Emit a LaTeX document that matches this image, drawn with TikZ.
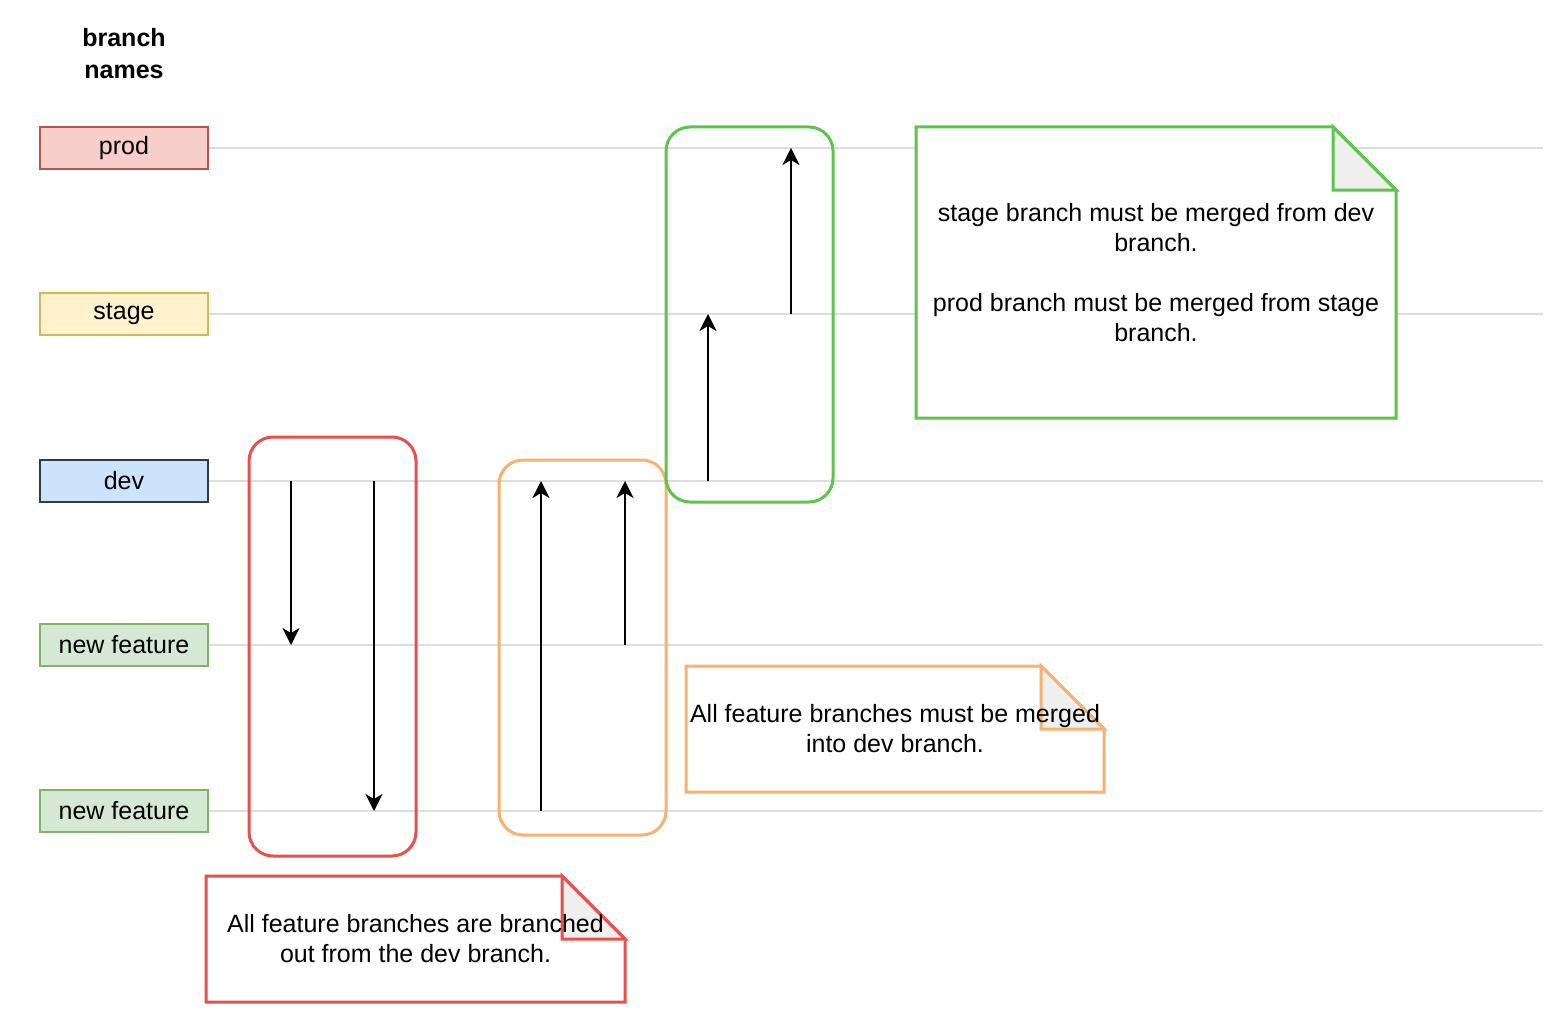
\documentclass[tikz,border=0pt]{standalone}
\usepackage{fontspec}
\setmainfont{Liberation Sans}
\usetikzlibrary{positioning,arrows.meta,calc}

\definecolor{prodfill}{HTML}{F8CECC}
\definecolor{prodline}{HTML}{B85450}
\definecolor{stagefill}{HTML}{FFF2CC}
\definecolor{stageline}{HTML}{D6B656}
\definecolor{devfill}{HTML}{CCE3FC}
\definecolor{devline}{HTML}{36393D}
\definecolor{featfill}{HTML}{D5E8D4}
\definecolor{featline}{HTML}{82B366}
\definecolor{lanegray}{HTML}{DDDDDD}
\definecolor{cutred}{HTML}{E8504E}
\definecolor{mrgorange}{HTML}{F6B26E}
\definecolor{relgreen}{HTML}{5BC64A}
\definecolor{foldgray}{HTML}{EFEFEF}

\begin{document}
\begin{tikzpicture}[x=0.5pt,y=-0.5pt,
        font=\fontsize{12.5pt}{15pt}\selectfont,
        branch/.style={draw, line width=1pt, minimum width=84pt, minimum height=21pt, inner sep=0pt},
        lane/.style={draw=lanegray, line width=1pt},
        frame/.style={line width=1.5pt, rounded corners=12pt},
        merge/.style={-{Stealth[length=8.5pt,width=8.5pt,inset=2.5pt]}, line width=0.9pt},
        note/.style={line width=1.5pt, fill=white},
        fold/.style={line width=1.5pt, fill=foldgray},
        notetext/.style={align=center, inner sep=0pt}]

    \useasboundingbox (0,0) rectangle (1564,1022);

    \node[font=\bfseries\fontsize{12.5pt}{16pt}\selectfont, align=center] (title) at (124,54) {branch\\names};

    \node[branch, draw=prodline,  fill=prodfill]  (prod)  at (124,148) {prod};
    \node[branch, draw=stageline, fill=stagefill] (stage) at (124,314) {stage};
    \node[branch, draw=devline,   fill=devfill]   (dev)   at (124,481) {dev};
    \node[branch, draw=featline,  fill=featfill]  (feat1) at (124,645) {new feature};
    \node[branch, draw=featline,  fill=featfill]  (feat2) at (124,811) {new feature};

    % lanes
    \coordinate (laneend) at (1543,0);
    \foreach \b in {prod,stage,dev,feat1,feat2}
        \draw[lane] (\b.east) -- (\b.east -| laneend);

    % frames
    \draw[frame, draw=cutred]    (249,437) rectangle (416,856);
    \draw[frame, draw=mrgorange] (499,460) rectangle (666,835);
    \draw[frame, draw=relgreen]  (666,127) rectangle (833,502);

    % columns of the arrows
    \coordinate (cut1) at (291,0);
    \coordinate (cut2) at (374,0);
    \coordinate (mrg1) at (541,0);
    \coordinate (mrg2) at (625,0);
    \coordinate (rel1) at (708,0);
    \coordinate (rel2) at (791,0);

    \draw[merge] (cut1 |- dev)   -- (cut1 |- feat1);
    \draw[merge] (cut2 |- dev)   -- (cut2 |- feat2);
    \draw[merge] (mrg1 |- feat2) -- (mrg1 |- dev);
    \draw[merge] (mrg2 |- feat1) -- (mrg2 |- dev);
    \draw[merge] (rel1 |- dev)   -- (rel1 |- stage);
    \draw[merge] (rel2 |- stage) -- (rel2 |- prod);

    % notes
    \coordinate (relnw) at (916,127);  \coordinate (relse) at (1396,418);
    \coordinate (mrgnw) at (686,666);  \coordinate (mrgse) at (1104,792);
    \coordinate (cutnw) at (206,876);  \coordinate (cutse) at (625,1002);

    \foreach \n/\c in {rel/relgreen, mrg/mrgorange, cut/cutred} {
        \draw[note, draw=\c] (\n nw) -- ([xshift=-31.5pt]\n nw -| \n se) -- ([yshift=-31.5pt]\n nw -| \n se)
            -- (\n se) -- (\n nw |- \n se) -- cycle;
        \draw[fold, draw=\c] ([xshift=-31.5pt]\n nw -| \n se) |- ([yshift=-31.5pt]\n nw -| \n se) -- cycle;
    }

    \node[notetext] (reltext) at ($(relnw)!0.5!(relse)$)
        {stage branch must be merged from dev\\branch.\\[15pt]prod branch must be merged from stage\\branch.};
    \node[notetext] (mrgtext) at ($(mrgnw)!0.5!(mrgse)$)
        {All feature branches must be merged\\into dev branch.};
    \node[notetext] (cuttext) at ($(cutnw)!0.5!(cutse)$)
        {All feature branches are branched\\out from the dev branch.};
\end{tikzpicture}
\end{document}
